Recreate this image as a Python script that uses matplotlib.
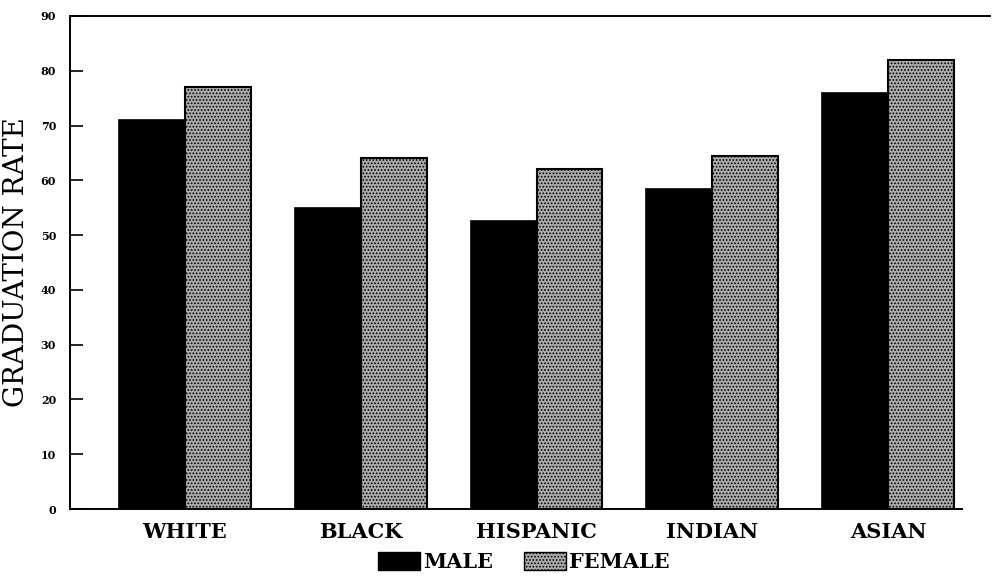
import matplotlib
matplotlib.use("Agg")
import matplotlib.pyplot as plt
from matplotlib.patches import Patch
import numpy as np

categories = ["WHITE", "BLACK", "HISPANIC", "INDIAN", "ASIAN"]
male = [71, 55, 52.5, 58.5, 76]
female = [77, 64, 62, 64.5, 82]
yticks = [0, 10, 20, 30, 40, 50, 60, 70, 80, 90]

plt.rcParams['font.family'] = ['DejaVu Serif', 'Liberation Serif']
plt.rcParams['hatch.linewidth'] = 0.8
plt.rcParams['hatch.color'] = '#4a4a4a'

fig = plt.figure(figsize=(9.92, 5.76), dpi=100)
ax = fig.add_axes([70 / 992, 1 - 509 / 576, 920 / 992, (509 - 16) / 576])

x = np.arange(len(categories))
w = 0.375
ax.bar(x - w / 2, male, width=w, color='black', edgecolor='black', linewidth=1.2)
ax.bar(x + w / 2, female, width=w, color='#ababab', edgecolor='black',
       linewidth=1.5, hatch='.....')

ax.set_xlim(-0.654, 4.58)
ax.set_ylim(0, 90)
ax.set_yticks(yticks)
ax.set_yticklabels([str(t) for t in yticks], fontsize=8, fontweight='bold')
ax.tick_params(axis='y', direction='in', length=9.5, width=1.2, pad=10)
ax.set_xticks(x)
ax.set_xticklabels(categories, fontsize=15, fontweight='bold')
ax.tick_params(axis='x', length=0, pad=9)

for s in ['left', 'top', 'bottom']:
    ax.spines[s].set_linewidth(1.4)
ax.spines['right'].set_visible(False)
ax.spines['bottom'].set_bounds(-0.654, 4.42)

ax.set_ylabel("GRADUATION RATE", fontsize=20, labelpad=8)

handles = [Patch(facecolor='black', edgecolor='black'),
           Patch(facecolor='#ababab', edgecolor='black', hatch='.....')]
fig.legend(handles, ["MALE", "FEMALE"], loc='center', bbox_to_anchor=(524 / 992, 1 - 562 / 576),
           ncol=2, frameon=False, prop={'size': 15, 'weight': 'bold'},
           handlelength=2.0, handleheight=1.0, handletextpad=0.15, columnspacing=1.5,
           borderpad=0)

fig.savefig("out.png", dpi=100)
